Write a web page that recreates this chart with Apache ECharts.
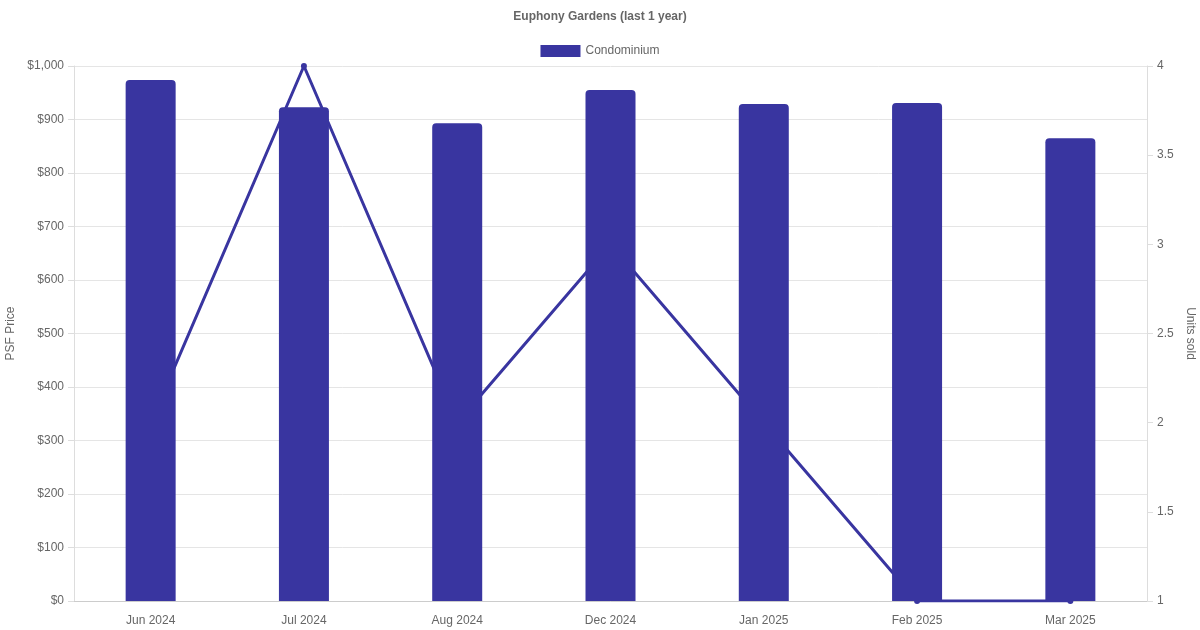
<!DOCTYPE html>
<html>
<head>
<meta charset="utf-8">
<script src="https://cdn.jsdelivr.net/npm/echarts@6/dist/echarts.min.js"></script>
<style>
  html, body { margin: 0; padding: 0; background: #fff; }
  #chart { width: 1200px; height: 630px; }
</style>
</head>
<body>
<div id="chart"></div>
<script>
const months = ['Jun 2024', 'Jul 2024', 'Aug 2024', 'Dec 2024', 'Jan 2025', 'Feb 2025', 'Mar 2025']
const psfPrice = [974, 923, 893, 955, 929, 931, 865]
const unitsSold = [2, 4, 2, 3, 2, 1, 1]

const barColor = '#3935a0'
const textColor = '#666'
const font = '"Liberation Sans", Arial, sans-serif'

let chart = echarts.init(document.getElementById('chart'))

chart.setOption({
  animation: false,
  textStyle: { fontFamily: font },
  title: {
    text: 'Euphony Gardens (last 1 year)',
    left: 'center',
    top: 6,
    textStyle: { fontSize: 12, fontWeight: 'bold', color: textColor, fontFamily: font }
  },
  legend: {
    top: 40,
    left: 'center',
    itemWidth: 40,
    itemHeight: 12,
    itemGap: 6,
    data: [{ name: 'Condominium', icon: 'rect' }],
    textStyle: { fontSize: 12, color: textColor, fontFamily: font }
  },
  grid: {
    left: 74,
    right: 53,
    top: 66,
    bottom: 29,
    containLabel: false,
    outerBoundsMode: 'none'
  },
  xAxis: {
    type: 'category',
    data: months,
    axisLine: { lineStyle: { color: '#ccc' } },
    axisTick: { show: false },
    axisLabel: { color: textColor, fontSize: 12, margin: 14 }
  },
  yAxis: [
    {
      type: 'value',
      min: 0,
      max: 1000,
      interval: 100,
      name: 'PSF Price',
      nameLocation: 'middle',
      nameGap: 55,
      nameTextStyle: { color: textColor, fontSize: 12 },
      axisLine: { show: true, lineStyle: { color: '#ddd' } },
      axisTick: { show: true, length: 6, lineStyle: { color: '#ddd' } },
      axisLabel: {
        color: textColor,
        fontSize: 12,
        margin: 10,
        formatter: v => '$' + v.toLocaleString('en-US')
      },
      splitLine: { lineStyle: { color: '#e5e5e5' } }
    },
    {
      type: 'value',
      min: 1,
      max: 4,
      interval: 0.5,
      name: 'Units sold',
      nameLocation: 'middle',
      nameRotate: -90,
      nameGap: 34,
      nameTextStyle: { color: textColor, fontSize: 12 },
      axisLine: { show: true, lineStyle: { color: '#ddd' } },
      axisTick: { show: true, length: 6, lineStyle: { color: '#ddd' } },
      axisLabel: { color: textColor, fontSize: 12, margin: 10 },
      splitLine: { show: false }
    }
  ],
  series: [
    {
      name: 'Condominium',
      type: 'bar',
      yAxisIndex: 0,
      data: psfPrice,
      barWidth: 50,
      z: 3,
      itemStyle: { color: barColor, borderRadius: [4, 4, 0, 0] }
    },
    {
      name: 'Units sold',
      type: 'line',
      yAxisIndex: 1,
      data: unitsSold,
      z: 1,
      symbol: 'circle',
      symbolSize: 6,
      lineStyle: { color: barColor, width: 3 },
      itemStyle: { color: barColor }
    }
  ]
})
</script>
</body>
</html>
